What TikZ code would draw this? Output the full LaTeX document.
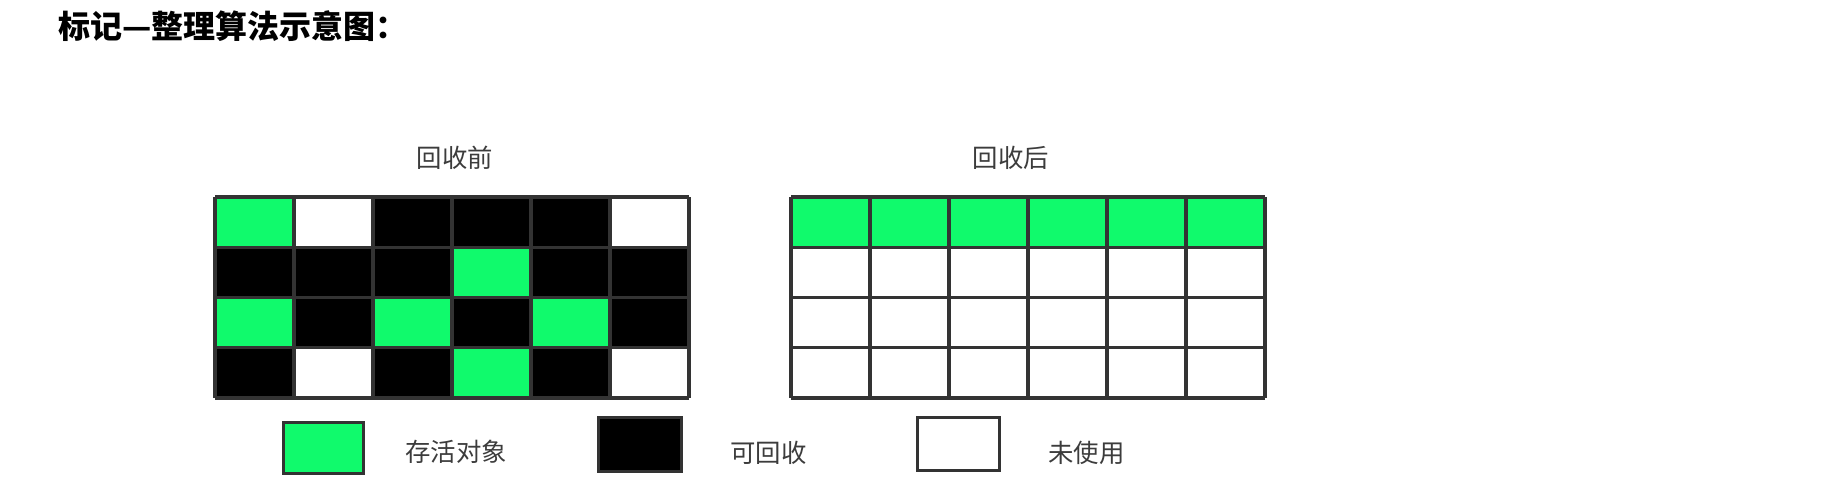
\documentclass[tikz,border=0pt]{standalone}
\usepackage{fontspec}
\newfontfamily\cjk{Noto Sans CJK SC}
\usetikzlibrary{positioning}

\definecolor{livegreen}{RGB}{16,250,108}
\definecolor{gridgray}{RGB}{51,51,51}
\definecolor{textgray}{RGB}{60,60,60}

\tikzset{
  alive/.style={fill=livegreen},
  garbage/.style={fill=black},
  unused/.style={fill=white},
  memgrid/.style={draw=gridgray,line width=1.6pt,step=1},
  caption/.style={font=\cjk\fontsize{12.7}{15}\selectfont,text=textgray,inner sep=0pt},
  keybox/.style={draw=gridgray,line width=1.5pt,inner sep=0pt}
}

\begin{document}
\begin{tikzpicture}[x=0.5pt,y=0.5pt]

\useasboundingbox (0,0) rectangle (1830,490);

\node[anchor=west,inner sep=0pt,font=\cjk\bfseries\fontsize{16}{19}\selectfont]
(title) at (58,464) {标记—整理算法示意图：};

% 回收前
\begin{scope}[xshift=107.5pt,yshift=46pt,x=39.5pt,y=25.125pt]

\fill[garbage] (0,0) rectangle (6,4);

\foreach \x/\y in {
0/3,
3/2,
0/1,2/1,4/1,
3/0
}
{
\fill[alive] (\x,\y) rectangle ++(1,1);
}

\foreach \x/\y in {1/3,5/3,1/0,5/0}
{
\fill[unused] (\x,\y) rectangle ++(1,1);
}

\draw[memgrid] (0,0) grid (6,4);

\end{scope}

\node[caption] (before) at (455,332) {回收前};

% 回收后
\begin{scope}[xshift=395.5pt,yshift=46pt,x=39.5pt,y=25.125pt]

\fill[unused] (0,0) rectangle (6,3);
\fill[alive] (0,3) rectangle (6,4);

\draw[memgrid] (0,0) grid (6,4);

\end{scope}

\node[caption] (after) at (1011,332) {回收后};

% 图例
\node[keybox,alive,minimum width=40pt,minimum height=25.5pt]
(keyalive) at (323,41.5) {};
\node[keybox,garbage,minimum width=41.5pt,minimum height=27pt]
(keygarbage) at (639.5,45) {};
\node[keybox,unused,minimum width=41pt,minimum height=26.5pt]
(keyunused) at (958,45.5) {};

\node[caption,anchor=west] (livetext) at (405,38) {存活对象};
\node[caption,anchor=west] (garbagetext) at (730,37) {可回收};
\node[caption,anchor=west] (unusedtext) at (1048,37) {未使用};

\end{tikzpicture}
\end{document}
